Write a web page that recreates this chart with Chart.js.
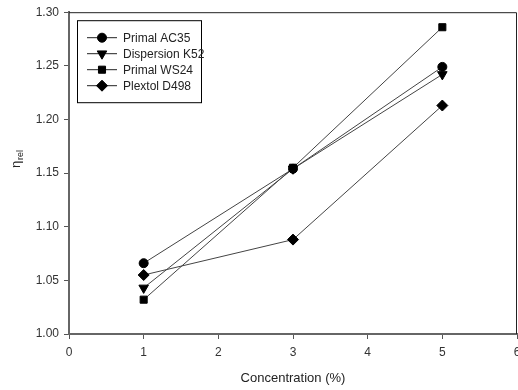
<!DOCTYPE html>
<html>
<head>
<meta charset="utf-8">
<script src="https://cdn.jsdelivr.net/npm/chart.js@4"></script>
<style>
  html, body { margin: 0; padding: 0; background: #fff; }
  #wrap { width: 518px; height: 390px; }
</style>
</head>
<body>
<div id="wrap"><canvas id="chart" width="518" height="390"></canvas></div>
<script>
const concentrations = [1, 3, 5];
const seriesNames = ['Primal AC35', 'Dispersion K52', 'Primal WS24', 'Plextol D498'];
const primalAC35 = [1.066, 1.154, 1.249];
const dispersionK52 = [1.043, 1.154, 1.242];
const primalWS24 = [1.032, 1.155, 1.286];
const plextolD498 = [1.055, 1.088, 1.213];
const xTicks = [0, 1, 2, 3, 4, 5, 6];
const yTicks = [1.00, 1.05, 1.10, 1.15, 1.20, 1.25, 1.30];

const markers = [
    { style: 'circle', radius: 4.5, rotation: 0 },
    { style: 'triangle', radius: 5.5, rotation: 180 },
    { style: 'rect', radius: 5, rotation: 0 },
    { style: 'rectRot', radius: 5.5, rotation: 0 },
];

const font = 'Arial, "Liberation Sans", sans-serif';

function toPoints(values) {
    return values.map((v, i) => ({ x: concentrations[i], y: v }));
}

const datasets = [primalAC35, dispersionK52, primalWS24, plextolD498].map((vals, i) => ({
    label: seriesNames[i],
    data: toPoints(vals),
    borderColor: '#444',
    borderWidth: 1,
    backgroundColor: '#000',
    pointBackgroundColor: '#000',
    pointBorderColor: '#000',
    pointBorderWidth: 1,
    pointStyle: markers[i].style,
    pointRadius: markers[i].radius,
    pointRotation: markers[i].rotation,
    fill: false,
    tension: 0,
}));

// frame, legend box and y title with subscript
const decorations = {
    id: 'decorations',
    afterDraw(chart) {
        const { ctx, chartArea: a } = chart;
        ctx.save();
        // top and right frame lines
        ctx.strokeStyle = '#222';
        ctx.lineWidth = 1;
        ctx.beginPath();
        ctx.moveTo(a.left, a.top + 0.5);
        ctx.lineTo(a.right - 0.5, a.top + 0.5);
        ctx.lineTo(a.right - 0.5, a.bottom);
        ctx.stroke();

        // legend
        const lx = a.left + 8, ly = a.top + 8, lw = 124, lh = 82;
        ctx.fillStyle = '#fff';
        ctx.fillRect(lx, ly, lw, lh);
        ctx.strokeStyle = '#000';
        ctx.strokeRect(lx + 0.5, ly + 0.5, lw, lh);
        ctx.font = '12px ' + font;
        ctx.textBaseline = 'middle';
        chart.data.datasets.forEach((ds, i) => {
            const y = ly + 17 + i * 16;
            ctx.strokeStyle = '#222';
            ctx.lineWidth = 1;
            ctx.beginPath();
            ctx.moveTo(lx + 10, y + 0.5);
            ctx.lineTo(lx + 40, y + 0.5);
            ctx.stroke();
            ctx.fillStyle = '#000';
            ctx.strokeStyle = '#000';
            Chart.helpers.drawPoint(ctx, {
                pointStyle: ds.pointStyle,
                radius: ds.pointRadius,
                rotation: ds.pointRotation,
                borderWidth: 1,
            }, lx + 25, y + 0.5);
            ctx.fillStyle = '#222';
            ctx.fillText(ds.label, lx + 46, y + 1);
        });

        // y title: eta with subscript "rel", rotated
        ctx.translate(16, (a.top + a.bottom) / 2 - 15);
        ctx.rotate(-Math.PI / 2);
        ctx.fillStyle = '#222';
        ctx.textBaseline = 'alphabetic';
        ctx.font = '13px ' + font;
        ctx.fillText('η', -10, 4);
        ctx.font = '9px ' + font;
        ctx.fillText('rel', -2, 7);
        ctx.restore();
    }
};

new Chart(document.getElementById('chart'), {
    type: 'line',
    data: { datasets },
    options: {
        responsive: false,
        animation: false,
        layout: { autoPadding: false, padding: { top: 11, right: 1, left: 0, bottom: 0 } },
        plugins: {
            legend: { display: false },
            tooltip: { enabled: false },
        },
        scales: {
            x: {
                type: 'linear',
                min: 0,
                max: 6,
                afterBuildTicks: (s) => { s.ticks = xTicks.map(v => ({ value: v })); },
                afterFit: (s) => { s.height = 56; s.paddingRight = 0; s.paddingLeft = 0; },
                grid: { drawOnChartArea: false, drawTicks: true, tickLength: 5, tickColor: '#555' },
                border: { color: '#666', width: 2 },
                ticks: { color: '#333', font: { family: font, size: 12 }, padding: 6, maxRotation: 0 },
                title: { display: true, text: 'Concentration (%)', color: '#222', font: { family: font, size: 13 }, padding: { top: 2 } },
            },
            y: {
                type: 'linear',
                min: 1.0,
                max: 1.3,
                afterBuildTicks: (s) => { s.ticks = yTicks.map(v => ({ value: v })); },
                afterFit: (s) => { s.width = 69; },
                grid: { drawOnChartArea: false, drawTicks: true, tickLength: 5, tickColor: '#555' },
                border: { color: '#666', width: 2 },
                ticks: { color: '#333', font: { family: font, size: 12 }, padding: 5, callback: (v) => v.toFixed(2) },
            },
        },
    },
    plugins: [decorations],
});
</script>
</body>
</html>
